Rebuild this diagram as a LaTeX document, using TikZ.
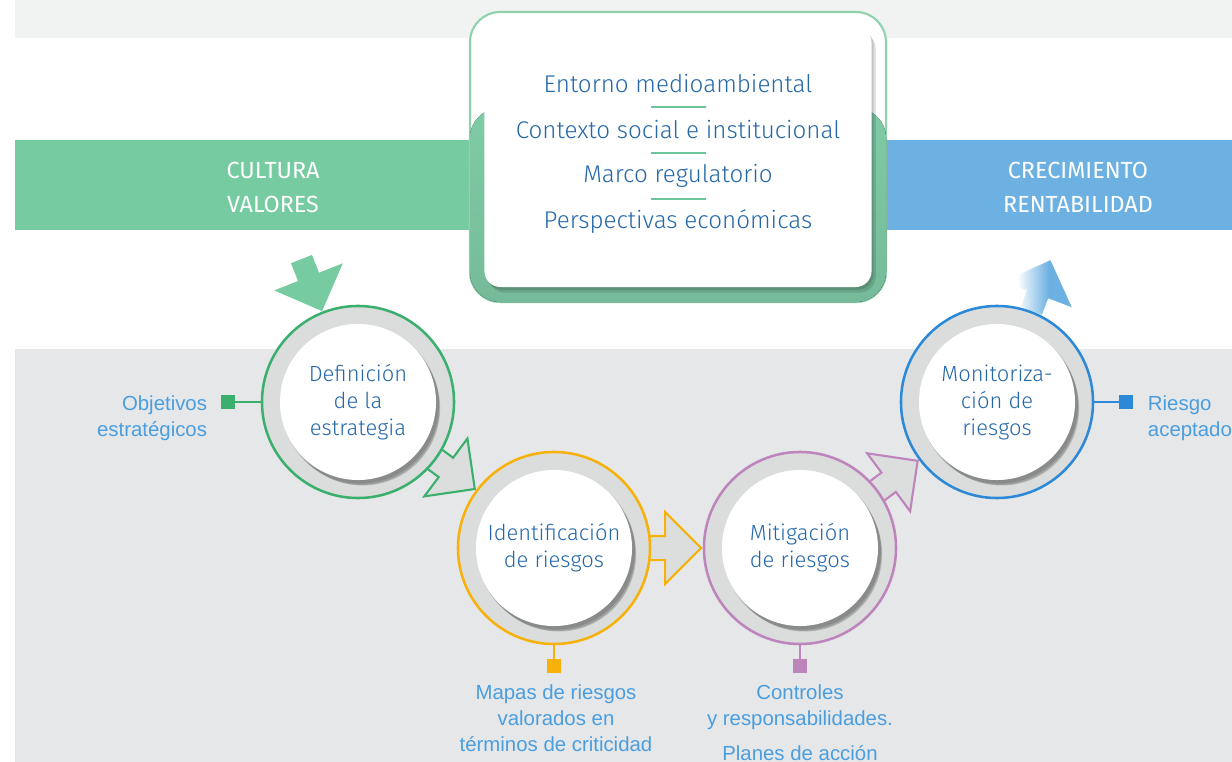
\documentclass[tikz,border=0pt]{standalone}
\usepackage{fontspec}
\setmainfont{Liberation Sans}
\newfontfamily\fina{Fira Sans Light}
\newfontfamily\normalita{Fira Sans}
\usepackage{tikz}
\usetikzlibrary{shapes.arrows,shadows,calc}

\definecolor{grisclaro}{HTML}{F1F2F2}
\definecolor{grisfondo}{HTML}{E6E7E8}
\definecolor{verdeband}{HTML}{76CBA0}
\definecolor{azulband}{HTML}{6DB1E2}
\definecolor{verdecaja}{HTML}{80CBA6}
\definecolor{verdeborde}{HTML}{8ED3AE}
\definecolor{separador}{HTML}{6CC49A}
\definecolor{textoazul}{HTML}{2468AA}
\definecolor{etiquetaazul}{HTML}{4A9EE0}
\definecolor{verdec}{HTML}{3BAF6E}
\definecolor{amarillo}{HTML}{F6B10A}
\definecolor{morado}{HTML}{BE84BC}
\definecolor{azulc}{HTML}{2C89D8}
\definecolor{anillo}{HTML}{DBDDDC}
\definecolor{flechagris}{HTML}{DCDEDD}

\pgfdeclarehorizontalshading{desvanece}{100bp}{color(0bp)=(white); color(35bp)=(white); color(58bp)=(azulband); color(100bp)=(azulband)}

\pgfdeclarelayer{fondo}
\pgfdeclarelayer{flechas}
\pgfsetlayers{fondo,flechas,main}

\tikzset{
    sombra/.style={
        drop shadow={shadow xshift=1.5pt, shadow yshift=-2pt, shadow scale=1.01, opacity=.12, fill=black},
        drop shadow={shadow xshift=2.5pt, shadow yshift=-3.5pt, opacity=.14, fill=black},
        drop shadow={shadow xshift=3.5pt, shadow yshift=-4.5pt, shadow scale=0.99, opacity=.16, fill=black}},
    sombracaja/.style={
        drop shadow={shadow xshift=1.5pt, shadow yshift=-2pt, opacity=.12, fill=black},
        drop shadow={shadow xshift=3pt, shadow yshift=-4pt, opacity=.12, fill=black}}
}

\begin{document}
\begin{tikzpicture}[x=0.025cm, y=-0.025cm,
    circulo/.style={circle, draw, line width=1.8pt, fill=anillo, minimum size=4.8cm, inner sep=0},
    disco/.style={circle, fill=white, minimum size=3.9cm, inner sep=0, align=center, text=textoazul,
        font=\fina\fontsize{15.6}{19.2}\selectfont, sombra},
    banda/.style={text=white, align=center, font=\normalita\fontsize{16.6}{24.2}\selectfont},
    linea/.style={text=textoazul, font=\fina\fontsize{17.2}{22}\selectfont},
    marca/.style={rectangle, minimum size=0.35cm, inner sep=0},
    etiqueta/.style={text=etiquetaazul, font=\fontsize{14.5}{18.5}\selectfont},
    rama/.style={line width=1.6pt},
    flecha/.style={single arrow, draw, fill=flechagris, line width=1.5pt, inner xsep=0pt, inner ysep=0.275cm,
        single arrow head extend=0.6cm, minimum height=2cm, sloped, anchor=tip},
    entrada/.style={single arrow, fill=verdeband, inner xsep=0pt, inner ysep=0.275cm,
        single arrow head extend=0.64cm, minimum height=1.4cm, sloped, anchor=tip},
    salida/.style={single arrow, shading=desvanece, inner xsep=0pt, inner ysep=0.275cm,
        single arrow head extend=0.63cm, minimum height=1.35cm, sloped, anchor=tail}
]
    \useasboundingbox (0,0) rectangle (1232,762);

    % Bands
    \begin{pgfonlayer}{fondo}
        \fill[grisclaro] (15,0) rectangle (1232,38);
        \fill[grisfondo] (15,349) rectangle (1232,762);
        \fill[verdeband] (15,140) rectangle (530,230);
        \fill[azulband] (886,140) rectangle (1232,230);
    \end{pgfonlayer}
    \node[banda] (cultura) at (273,187) {CULTURA\\VALORES};
    \node[banda] (crec) at (1078,187) {CRECIMIENTO\\RENTABILIDAD};

    % Framework box
    \draw[verdeborde, line width=1.5pt, fill=white, rounded corners=0.75cm] (470,12) rectangle (886,302);
    \fill[top color=verdecaja, bottom color=verdecaja!92!black, rounded corners=0.75cm] (470,108) rectangle (886,302);
    \node[fill=white, rounded corners=0.4cm, minimum width=9.675cm, minimum height=6.5cm, sombracaja] (marco) at (678,157) {};
    \foreach \t [count=\i] in {Entorno medioambiental, Contexto social e institucional, Marco regulatorio, Perspectivas económicas}
        \node[linea] (e\i) at (678,{38+46*\i}) {\t};
    \foreach \i/\j in {1/2,2/3,3/4}
        \draw[separador, line width=1pt] ($(e\i)!0.5!(e\j)$) +(-27,0) -- +(28,0);

    % Process circles
    \node[circulo, draw=verdec] (def) at (358,402) {};
    \node[disco] (def-d) at (def) {Definición\\de la\\estrategia};
    \node[circulo, draw=amarillo] (ide) at (554,548) {};
    \node[disco] (ide-d) at (ide) {Identificación\\de riesgos};
    \node[circulo, draw=morado] (mit) at (800,548) {};
    \node[disco] (mit-d) at (mit) {Mitigación\\de riesgos};
    \node[circulo, draw=azulc] (mon) at (997,402) {};
    \node[disco] (mon-d) at (mon) {Monitoriza-\\ción de\\riesgos};

    % Tags
    \node[marca, fill=verdec] (def-m) at (228,402) {};
    \node[marca, fill=amarillo] (ide-m) at (554,666) {};
    \node[marca, fill=morado] (mit-m) at (800,666) {};
    \node[marca, fill=azulc] (mon-m) at (1126,402) {};
    \draw[rama, verdec] (def) -- (def-m);
    \draw[rama, amarillo] (ide) -- (ide-m);
    \draw[rama, morado] (mit) -- (mit-m);
    \draw[rama, azulc] (mon) -- (mon-m);
    \node[etiqueta, anchor=east, align=right] (objetivos) at (212,418) {Objetivos\\estratégicos};
    \node[etiqueta, anchor=north, align=center] (mapas) at (556,680) {Mapas de riesgos\\valorados en\\términos de criticidad};
    \node[etiqueta, anchor=north, align=center] (controles) at (800,680) {Controles\\y responsabilidades.\\[6pt]Planes de acción};
    \node[etiqueta, anchor=west, align=left] (riesgo) at (1143,418) {Riesgo\\aceptado};

    % Arrows
    \begin{pgfonlayer}{flechas}
        \path (cultura) -- (def) node[at end, entrada] {};
        \path (def) -- (ide) node[at end, flecha, draw=verdec] {};
        \path (ide) -- (mit) node[at end, flecha, draw=amarillo] {};
        \path (mit) -- (mon) node[at end, flecha, draw=morado] {};
        \path (mon) -- (crec) node[at start, salida] {};
    \end{pgfonlayer}
\end{tikzpicture}
\end{document}
